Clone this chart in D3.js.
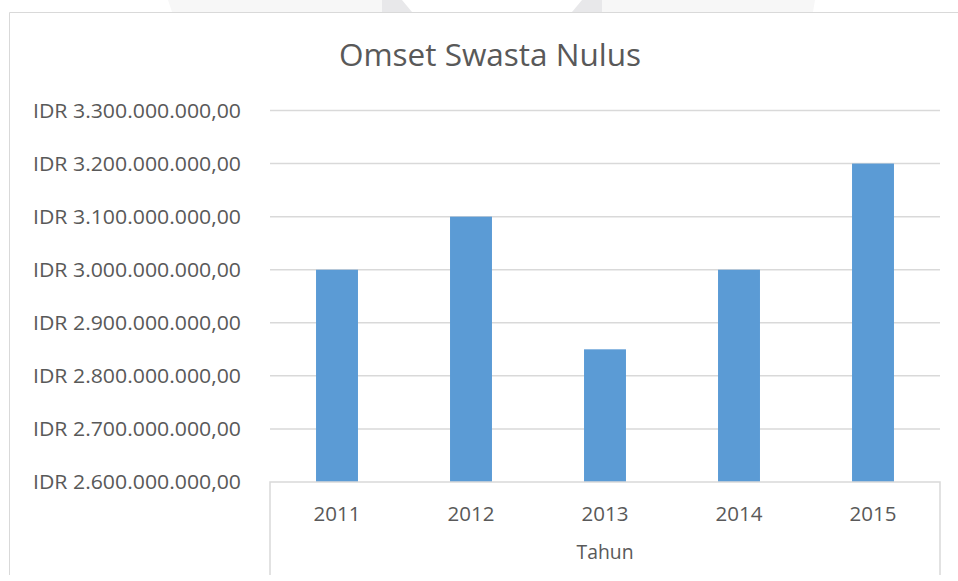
<!DOCTYPE html>
<html>
<head>
<meta charset="utf-8">
<script src="https://cdn.jsdelivr.net/npm/d3@7/dist/d3.min.js"></script>
<style>
  html, body { margin: 0; padding: 0; background: #fff; }
  svg { display: block; }
  text { font-family: "Open Sans", sans-serif; fill: #595959; }
</style>
</head>
<body>
<svg id="chart" width="958" height="581"></svg>
<script>
// ---- data ----
const title = "Omset Swasta Nulus";
const axisTitle = "Tahun";
const years = ["2011", "2012", "2013", "2014", "2015"];
const omset = [3000000000, 3100000000, 2850000000, 3000000000, 3200000000];
const yTicks = [2600000000, 2700000000, 2800000000, 2900000000, 3000000000, 3100000000, 3200000000, 3300000000];

// ---- layout ----
const W = 958, H = 581;
const plot = { left: 270, right: 940, top: 110.5, bottom: 482 };
const frameBottom = 575;
const svg = d3.select("#chart");

svg.append("rect").attr("width", W).attr("height", H).attr("fill", "#fff");

// faint watermark fragments above the chart frame
const wm = svg.append("g");
const lightPolys = [
  [[168, 0], [382, 0], [382, 12], [172, 12]],
  [[602, 0], [815, 0], [813, 12], [602, 12]]
];
const darkPolys = [
  [[382, 0], [402, 0], [412, 12], [382, 12]],
  [[582, 0], [602, 0], [602, 12], [572, 12]]
];
wm.selectAll("polygon.l").data(lightPolys).join("polygon").attr("class", "l")
  .attr("points", d => d.map(p => p.join(",")).join(" ")).attr("fill", "#f7f7f7");
wm.selectAll("polygon.d").data(darkPolys).join("polygon").attr("class", "d")
  .attr("points", d => d.map(p => p.join(",")).join(" ")).attr("fill", "#e8e8ea");

// chart frame (top and left edges visible)
svg.append("path")
  .attr("d", `M9.5,${frameBottom} V12.5 H${W}`)
  .attr("fill", "none").attr("stroke", "#d9d9d9").attr("stroke-width", 1);

// ---- scales ----
const x = d3.scaleBand().domain(years).range([plot.left, plot.right])
  .paddingInner(0.687).paddingOuter(0.687 / 2);
const y = d3.scaleLinear().domain([d3.min(yTicks), d3.max(yTicks)]).range([plot.bottom, plot.top]);

const idr = d3.formatLocale({ decimal: ",", thousands: ".", grouping: [3], currency: ["IDR ", ""] });
const fmt = idr.format("$,.2f");

// gridlines
svg.append("g").selectAll("line").data(yTicks.filter(v => v !== d3.min(yTicks))).join("line")
  .attr("x1", plot.left).attr("x2", plot.right)
  .attr("y1", d => y(d)).attr("y2", d => y(d))
  .attr("stroke", "#d9d9d9").attr("stroke-width", 1.5);

// bars
svg.append("g").selectAll("rect").data(years).join("rect")
  .attr("x", d => x(d))
  .attr("width", x.bandwidth())
  .attr("y", (d, i) => y(omset[i]))
  .attr("height", (d, i) => y(d3.min(yTicks)) - y(omset[i]))
  .attr("fill", "#5b9bd5");

// category axis box
const yb = plot.bottom;
svg.append("path")
  .attr("d", `M${plot.left},${frameBottom} V${yb} H${plot.right} V${frameBottom}`)
  .attr("fill", "none").attr("stroke", "#d9d9d9").attr("stroke-width", 1.5);

// set size, then squeeze to the measured width
function sized(sel, size, target) {
  sel.style("font-size", size + "px");
  const w = sel.node().getComputedTextLength();
  if (Math.abs(w - target) > 1) sel.attr("textLength", target).attr("lengthAdjust", "spacingAndGlyphs");
}

// value axis labels
const yl = svg.append("g").selectAll("text").data(yTicks).join("text")
  .attr("x", 241).attr("y", d => y(d))
  .attr("dy", "0.36em")
  .attr("text-anchor", "end")
  .text(d => fmt(d));
yl.each(function () { sized(d3.select(this), 20.5, 208); });

// category labels
const xl = svg.append("g").selectAll("text").data(years).join("text")
  .attr("x", d => x(d) + x.bandwidth() / 2)
  .attr("y", 521)
  .attr("text-anchor", "middle")
  .text(d => d);
xl.each(function () { sized(d3.select(this), 20, 47); });

// axis title
const at = svg.append("text")
  .attr("x", (plot.left + plot.right) / 2).attr("y", 559)
  .attr("text-anchor", "middle").text(axisTitle);
sized(at, 20.5, 57);

// chart title
const tt = svg.append("text")
  .attr("x", 490).attr("y", 66)
  .attr("text-anchor", "middle")
  .style("font-size", "31.5px")
  .text(title);
</script>
</body>
</html>
